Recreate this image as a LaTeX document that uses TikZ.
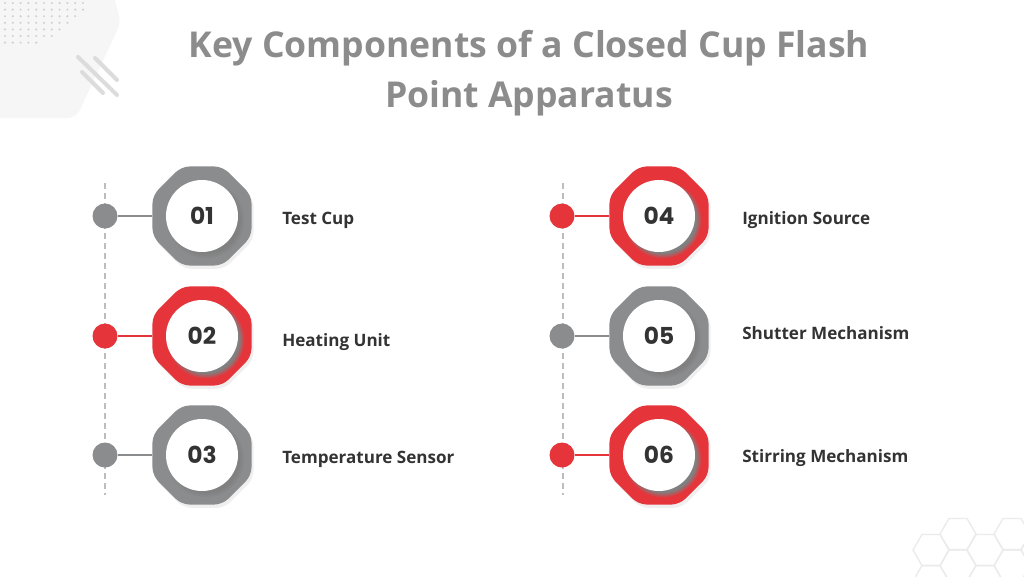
\documentclass[tikz,border=0pt]{standalone}
\usepackage{fontspec}
\setmainfont{Open Sans}
\newfontfamily\numfont{Poppins}
\usetikzlibrary{shapes.geometric,shadows}
\definecolor{cgray}{HTML}{8A8C8E}
\definecolor{cred}{HTML}{E5353B}
\definecolor{ctitle}{HTML}{8C8C8C}
\definecolor{ctext}{HTML}{333333}
\definecolor{cdash}{HTML}{BDBDBD}
\definecolor{cbgl}{HTML}{F6F6F6}
\definecolor{cdot}{HTML}{D2D2D2}
\definecolor{cline}{HTML}{DCDCDC}
\definecolor{chex}{HTML}{EBEBEB}
\begin{document}
\begin{tikzpicture}[x=0.75pt,y=-0.75pt,
  octo/.style={regular polygon, regular polygon sides=8, minimum size=80.4pt, inner sep=0pt, rounded corners=6pt,
     drop shadow={opacity=0.12, shadow xshift=1.5pt, shadow yshift=-2.5pt}},
  disc/.style={circle, fill=white, minimum size=54pt, inner sep=0pt, text=ctext,
     font=\numfont\bfseries\fontsize{17.5}{20}\selectfont,
     circular drop shadow={shadow xshift=2.5pt, shadow yshift=-2.5pt, shadow scale=1.08}},
  dotmark/.style={circle, minimum size=18.75pt, inner sep=0pt},
  lab/.style={anchor=base west, text=ctext, font=\bfseries\fontsize{12.8}{15}\selectfont, inner sep=0pt},
  guide/.style={cdash, line width=1.2pt, dash pattern=on 4.5pt off 3pt},
  link/.style={line width=1.5pt}
]
\useasboundingbox (0,0) rectangle (1024,576);
\fill[white] (0,0) rectangle (1024,576);
% top-left decoration
\fill[cbgl, rounded corners=6pt] (-10,-10) -- (112,-10) -- (121,22) -- (107,52) -- (76,118) -- (-10,118) -- cycle;
\foreach \r/\n in {0/11,1/11,2/10,3/9,4/8,5/7,6/5}
  \foreach \c in {1,...,\n}
    \fill[cdot] ({5+(\c-1)*7.8},{3+\r*6.6}) circle (0.9pt);
\draw[cline, line width=3pt, line cap=round] (95,58) -- (117,80);
\draw[cline, line width=3pt, line cap=round] (78,57) -- (117,95);
\draw[cline, line width=3pt, line cap=round] (82,72) -- (103,93);
% bottom-right hexagons
\begin{scope}
\clip (0,0) rectangle (1024,576);
\foreach \cx/\cy in {931/550,958/534,985/550,1012/534,958/565.6,1012/565.6,931/581,985/581,1039/550}
  \draw[chex, line width=1pt] (\cx,\cy) +(0:18) -- +(60:18) -- +(120:18) -- +(180:18) -- +(240:18) -- +(300:18) -- cycle;
\end{scope}
% title
\node[text=ctitle, font=\bfseries\fontsize{26.7}{38}\selectfont, align=center] (title) at (529,73)
  {Key Components of a Closed Cup Flash\\Point Apparatus};
% guides
\coordinate (gla) at (105,183);
\coordinate (glb) at (105,495);
\coordinate (gra) at (563,183);
\coordinate (grb) at (563,495);
\draw[guide] (gla) -- (glb);
\draw[guide] (gra) -- (grb);
% items
\foreach \i/\x/\y/\ly/\lx/\c/\t in {
  1/202/216/224/282/cgray/Test Cup,
  2/202/336/346/282/cred/Heating Unit,
  3/202/455/463/282/cgray/Temperature Sensor,
  4/659/216/224/742/cred/Ignition Source,
  5/659/336/339/742/cgray/Shutter Mechanism,
  6/659/455/462/742/cred/Stirring Mechanism}{
  \node[dotmark, fill=\c] (d\i) at ({\x-97},\y) {};
  \node[octo, fill=\c] (o\i) at (\x,\y) {};
  \draw[link, \c] (d\i) -- (o\i);
  \node[disc] (n\i) at (\x,\y) {0\i};
  \node[lab] (l\i) at (\lx,\ly) {\t};
}
\end{tikzpicture}
\end{document}
